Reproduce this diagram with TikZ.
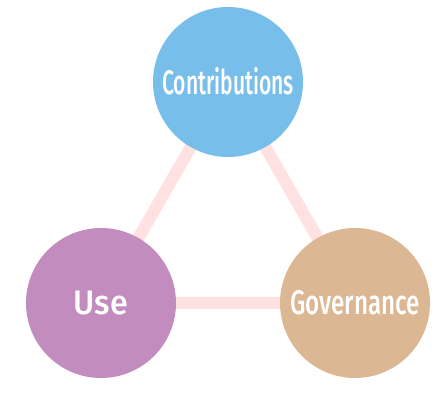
\documentclass[tikz,border=0pt]{standalone}
\usepackage{fontspec}
\newfontfamily\labelfont{Fira Sans Medium}
\usetikzlibrary{backgrounds}
\definecolor{contribblue}{HTML}{78BEEA}
\definecolor{usepurple}{HTML}{C38CBF}
\definecolor{govtan}{HTML}{DBB893}
\definecolor{linkpink}{HTML}{FFE1E1}
\tikzset{
	topic/.style={circle, minimum size=150pt, inner sep=0pt, text=white, font=\labelfont\fontsize{34}{34}\selectfont},
	link/.style={line width=12pt, color=linkpink},
}
\newcommand{\squeeze}[2]{\scalebox{#1}[1]{#2}}

\begin{document}
\begin{tikzpicture}[x=1pt, y=-1pt]
			%%%%% START %%%%%
			
			\useasboundingbox (0, 0) rectangle (446, 393);
			
			\node[topic, fill=contribblue] (contrib) at (228, 82) {\raisebox{2pt}{\squeeze{0.62}{Contributions}}};
			\node[topic, fill=usepurple] (use) at (101, 303) {\squeeze{0.95}{Use}};
			\node[topic, fill=govtan] (gov) at (355, 303) {\squeeze{0.71}{Governance}};
			
			\begin{scope}[on background layer]
				\draw[link] (contrib.center) -- (use.center);
				\draw[link] (use.center) -- (gov.center);
				\draw[link] (gov.center) -- (contrib.center);
			\end{scope}
			
			%%%%% END %%%%%
\end{tikzpicture}
\end{document}
